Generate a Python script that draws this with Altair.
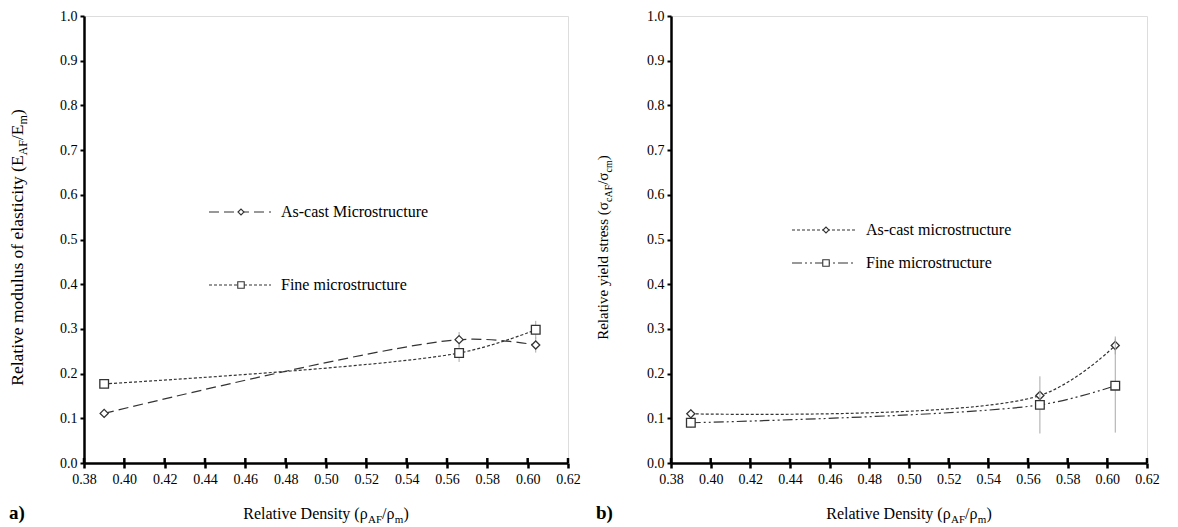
import altair as alt
import pandas as pd

# ---------------- data ----------------
x_density = [0.39, 0.566, 0.604]

e_ascast = [0.111, 0.276, 0.264]
e_ascast_err = [0.010, 0.017, 0.017]
e_fine = [0.177, 0.246, 0.298]
e_fine_err = [0.010, 0.020, 0.020]

s_ascast = [0.110, 0.151, 0.263]
s_ascast_err = [0.011, 0.010, 0.020]
s_fine = [0.090, 0.130, 0.173]
s_fine_err = [0.011, 0.064, 0.105]

x_ticks = [0.38, 0.40, 0.42, 0.44, 0.46, 0.48, 0.50, 0.52, 0.54, 0.56, 0.58, 0.60, 0.62]
y_ticks = [0.0, 0.1, 0.2, 0.3, 0.4, 0.5, 0.6, 0.7, 0.8, 0.9, 1.0]

legend_a = ["As-cast Microstructure", "Fine microstructure"]
legend_b = ["As-cast microstructure", "Fine microstructure"]

xtitle_pieces = [("Relative Density (ρ", False), ("AF", True), ("/ρ", False), ("m", True), (")", False)]
ytitle_a_pieces = [("Relative modulus of elasticity (E", False), ("AF", True), ("/E", False), ("m", True), (")", False)]
ytitle_b_pieces = [("Relative yield stress (σ", False), ("cAF", True), ("/σ", False), ("cm", True), (")", False)]

# ---------------- style ----------------
FONT = "Liberation Serif, 'Times New Roman', Times, serif"
LINE_COLOR = "#333333"
ERR_COLOR = "#a8a8a8"
TICK_FS = 14

W_CHARS = {' ': 250, '(': 333, ')': 333, '/': 278, '-': 333,
           'A': 722, 'D': 722, 'E': 611, 'F': 556, 'R': 667, 'M': 889,
           'a': 444, 'c': 444, 'd': 500, 'e': 444, 'f': 333, 'i': 278, 'l': 278,
           'm': 778, 'n': 500, 'o': 500, 'r': 333, 's': 389, 't': 278, 'u': 500,
           'v': 500, 'y': 500, 'ρ': 520, 'σ': 550}


def text_width(s, fs):
    return sum(W_CHARS.get(ch, 500) for ch in s) * fs / 1000.0


def title_layers(pieces, x, y, main_fs, sub_fs, angle=0):
    sizes = [sub_fs if sub else main_fs for _, sub in pieces]
    widths = [text_width(t, fs) for (t, _), fs in zip(pieces, sizes)]
    total = sum(widths)
    start = -total / 2.0
    layers = []
    base = alt.Chart(pd.DataFrame({"k": [0]}))
    shift = round(main_fs * 0.25)
    for (t, sub), fs, w in zip(pieces, sizes, widths):
        kw = dict(align="left", baseline="alphabetic", font=FONT, fontSize=fs,
                  color="black", dx=start, dy=shift if sub else 0)
        if angle:
            kw["angle"] = angle
        layers.append(base.mark_text(**kw).encode(x=alt.value(x), y=alt.value(y), text=alt.value(t)))
        start += w
    return layers


def panel(series, width, height, ytitle_pieces, yt_fs, yt_x, yt_y, legend, letter):
    xs = alt.Scale(domain=[0.38, 0.62], nice=False, zero=False)
    ys = alt.Scale(domain=[0.0, 1.0], nice=False)
    xaxis = alt.Axis(values=x_ticks, format=".2f", title=None, grid=False,
                     domainColor="black", domainWidth=2.5, tickColor="black", tickWidth=2.5,
                     tickSize=5, labelFont=FONT, labelFontSize=TICK_FS, labelColor="black",
                     labelPadding=4, labelFlush=False)
    yaxis = alt.Axis(values=y_ticks, format=".1f", title=None, grid=False,
                     domainColor="black", domainWidth=2.5, tickColor="black", tickWidth=2,
                     tickSize=4, labelFont=FONT, labelFontSize=TICK_FS, labelColor="black",
                     labelPadding=3)
    layers = []
    # upper half of the crossing x ticks
    tdf = pd.DataFrame({"t": x_ticks})
    layers.append(alt.Chart(tdf).mark_rule(color="black", strokeWidth=2.5).encode(
        x=alt.X("t:Q", scale=xs, axis=xaxis), y=alt.value(height), y2=alt.value(height - 5)))
    for vals, errs, dash, shape, size in series:
        df = pd.DataFrame({"x": x_density, "y": vals,
                           "lo": [v - e for v, e in zip(vals, errs)],
                           "hi": [v + e for v, e in zip(vals, errs)]})
        base = alt.Chart(df)
        layers.append(base.mark_rule(color=ERR_COLOR, strokeWidth=1).encode(
            x=alt.X("x:Q", scale=xs, axis=xaxis),
            y=alt.Y("lo:Q", scale=ys, axis=yaxis), y2="hi:Q"))
        layers.append(base.mark_line(interpolate="catmull-rom", color=LINE_COLOR,
                                     strokeWidth=1.2, strokeDash=dash).encode(
            x=alt.X("x:Q", scale=xs, axis=xaxis),
            y=alt.Y("y:Q", scale=ys, axis=yaxis)))
        layers.append(base.mark_point(shape=shape, size=size, filled=True, fill="white",
                                      stroke=LINE_COLOR, strokeWidth=1.3, opacity=1).encode(
            x=alt.X("x:Q", scale=xs, axis=xaxis),
            y=alt.Y("y:Q", scale=ys, axis=yaxis)))
    one = alt.Chart(pd.DataFrame({"k": [0]}))
    for (label, dash, shape, size), (lx1, lx2, mx, tx, ly) in legend:
        layers.append(one.mark_rule(color=LINE_COLOR, strokeWidth=1.2, strokeDash=dash).encode(
            x=alt.value(lx1), x2=alt.value(lx2), y=alt.value(ly)))
        layers.append(one.mark_point(shape=shape, size=size * 0.6, filled=True, fill="white",
                                     stroke=LINE_COLOR, strokeWidth=1.1, opacity=1).encode(
            x=alt.value(mx), y=alt.value(ly)))
        layers.append(one.mark_text(align="left", baseline="middle", font=FONT, fontSize=16,
                                    color="black").encode(
            x=alt.value(tx), y=alt.value(ly), text=alt.value(label)))
    layers += title_layers(xtitle_pieces, width / 2.0, height + 56, 16, 11)
    layers += title_layers(ytitle_pieces, yt_x, yt_y, yt_fs, round(yt_fs * 0.68), angle=270)
    layers.append(one.mark_text(align="left", baseline="middle", font=FONT, fontSize=19,
                                fontWeight="bold", color="black").encode(
        x=alt.value(-75), y=alt.value(height + 50), text=alt.value(letter)))
    return alt.layer(*layers).properties(width=width, height=height)


H = 447
dash_long = [10, 5]
dash_dot = [3, 2]
dash_dd = [10, 3, 2, 3, 2, 3]

left = panel(
    [(e_ascast, e_ascast_err, dash_long, "diamond", 65),
     (e_fine, e_fine_err, dash_dot, "square", 75)],
    484, H, ytitle_a_pieces, 17.5, -61, H / 2.0 + 8,
    [((legend_a[0], dash_long, "diamond", 60), (125, 187, 157, 197, 196)),
     ((legend_a[1], dash_dot, "square", 70), (125, 187, 157, 197, 269))],
    "a)")

right = panel(
    [(s_ascast, s_ascast_err, dash_dot, "diamond", 65),
     (s_fine, s_fine_err, dash_dd, "square", 75)],
    476, H, ytitle_b_pieces, 15, -63, H / 2.0 + 8,
    [((legend_b[0], dash_dot, "diamond", 60), (121, 185, 155, 195, 214)),
     ((legend_b[1], dash_dd, "square", 70), (121, 185, 155, 195, 247))],
    "b)")

chart = alt.hconcat(left, right, spacing=14).properties(
    padding={"left": 0, "top": 0, "right": 0, "bottom": 0}
).configure_view(stroke=None).configure(background="white", font=FONT).configure_axis(
    domainColor="black", domainWidth=2.5, tickColor="black", tickWidth=2,
    labelFont=FONT, labelFontSize=TICK_FS, labelColor="black"
)

chart.save("out.html", embed_options={"renderer": "svg", "actions": False})
